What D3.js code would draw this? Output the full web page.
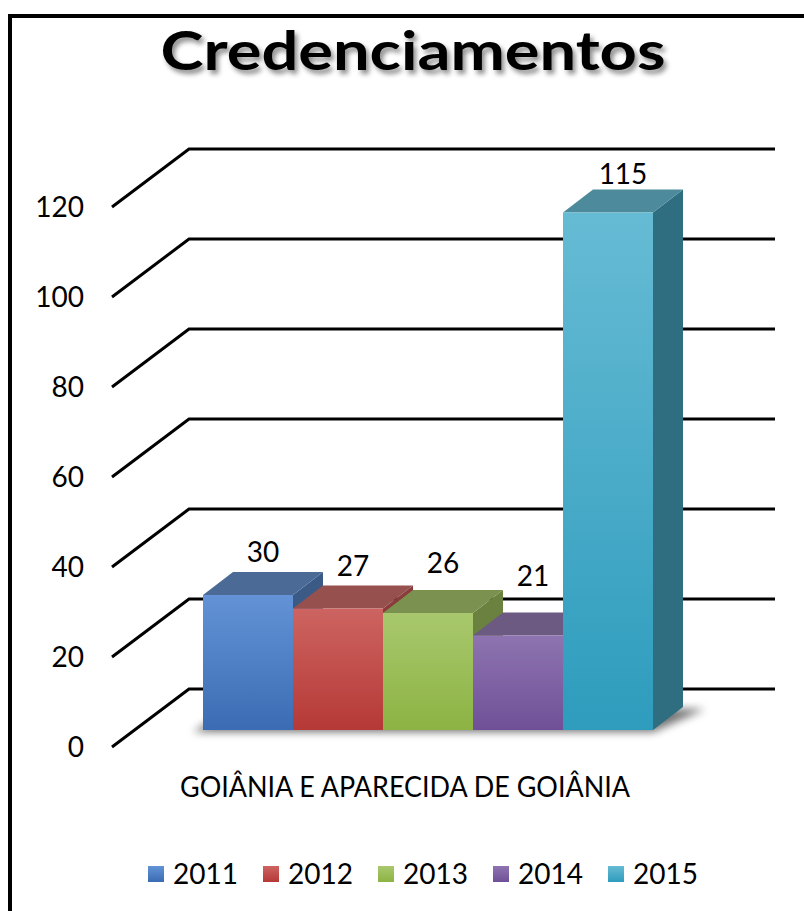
<html>
<head>
<meta charset="UTF-8">
<script src="https://cdn.jsdelivr.net/npm/d3@7"></script>
<style>
  body { margin: 0; background: #fff; }
  text { font-family: Lato, "Open Sans", sans-serif; fill: #000; }
</style>
</head>
<body>
<svg id="chart" width="804" height="911"></svg>
<script>
// data
let years = ["2011", "2012", "2013", "2014", "2015"];
let values = [30, 27, 26, 21, 115];
let yTicks = [0, 20, 40, 60, 80, 100, 120];
let category = "GOIÂNIA E APARECIDA DE GOIÂNIA";
let title = "Credenciamentos";

// colours: front top, front bottom, top face, side face
let frontTop = ["#6393d6", "#cd6461", "#a9c86e", "#8e74b0", "#66bbd4"];
let frontBot = ["#3b6cb3", "#b53936", "#8cb343", "#6f5098", "#2e9cbd"];
let topFace  = ["#4b6a96", "#96504d", "#7a914f", "#6c5a82", "#4d8b9c"];
let sideFace = ["#3c5a86", "#8a3c3a", "#6a8140", "#5a4872", "#2f6e80"];
// extra lift of the value labels (excel moves them off the gridlines)
let labelLift = [10, 10, 17, 27, 6];

let svg = d3.select("#chart");
let defs = svg.append("defs");

// title shadow
let f = defs.append("filter").attr("id", "tshadow").attr("x", "-10%").attr("y", "-30%").attr("width", "120%").attr("height", "160%");
f.append("feDropShadow").attr("dx", 3).attr("dy", 4).attr("stdDeviation", 2.5).attr("flood-color", "#000").attr("flood-opacity", 0.45);

let blur = defs.append("filter").attr("id", "blur").attr("x", "-20%").attr("y", "-50%").attr("width", "140%").attr("height", "200%");
blur.append("feGaussianBlur").attr("stdDeviation", 4);

years.forEach(function(y, i) {
    let g = defs.append("linearGradient").attr("id", "g" + i)
        .attr("x1", 0).attr("y1", 0).attr("x2", 0).attr("y2", 1);
    g.append("stop").attr("offset", "0%").attr("stop-color", frontTop[i]);
    g.append("stop").attr("offset", "100%").attr("stop-color", frontBot[i]);
});

// border (only top and left visible)
svg.append("rect").attr("x", 10).attr("y", 16).attr("width", 820).attr("height", 920)
    .attr("fill", "none").attr("stroke", "#000").attr("stroke-width", 4);

// title
svg.append("text").attr("x", 413).attr("y", 70)
    .attr("text-anchor", "middle")
    .attr("font-size", 54).attr("font-weight", "bold")
    .attr("textLength", 505).attr("lengthAdjust", "spacingAndGlyphs")
    .attr("filter", "url(#tshadow)")
    .text(title);

// scales
let yFront = d3.scaleLinear().domain([0, 120]).range([747, 207]);
let wallDx = 77, wallDy = -58;
let yBar = d3.scaleLinear().domain([0, 120]).range([730, 190]);
let x = d3.scaleBand().domain(years).range([203, 653]).padding(0);
let depthDx = 30, depthDy = -23;
let xLeft = 112, xRight = 775;

// gridlines: diagonal on the side wall + horizontal on the back wall
let grid = svg.append("g").attr("stroke", "#000").attr("stroke-width", 3).attr("fill", "none");
yTicks.forEach(function(t) {
    let y0 = yFront(t);
    grid.append("path")
        .attr("d", "M" + xLeft + "," + y0 + "L" + (xLeft + wallDx) + "," + (y0 + wallDy) + "L" + xRight + "," + (y0 + wallDy));
});

// tick labels
let axis = svg.append("g").attr("transform", "translate(84,1)")
    .call(d3.axisLeft(yFront).tickValues(yTicks).tickSize(0).tickPadding(0));
axis.select(".domain").remove();
axis.selectAll("text").attr("font-size", 28).attr("font-family", "Lato, sans-serif").attr("fill", "#000");

// floor shadow
let x0 = x(years[0]), x1 = x(years[years.length - 1]) + x.bandwidth();
let base = yBar(0);
svg.append("path")
    .attr("d", "M" + (x0 - 10) + "," + (base + 2) + "L" + x1 + "," + (base + 2) +
        "L" + (x1 + depthDx + 22) + "," + (base + depthDy + 2) + "L" + (x0 + depthDx) + "," + (base + depthDy) + "Z")
    .attr("fill", "#000").attr("opacity", 0.55).attr("filter", "url(#blur)");

// bars
let bars = svg.append("g");
years.forEach(function(yr, i) {
    let bx = x(yr), bw = x.bandwidth();
    let top = yBar(values[i]);
    let g = bars.append("g");
    // side face
    g.append("path")
        .attr("d", "M" + (bx + bw) + "," + top + "L" + (bx + bw + depthDx) + "," + (top + depthDy) +
            "L" + (bx + bw + depthDx) + "," + (base + depthDy) + "L" + (bx + bw) + "," + base + "Z")
        .attr("fill", sideFace[i]);
    // top face
    g.append("path")
        .attr("d", "M" + bx + "," + top + "L" + (bx + depthDx) + "," + (top + depthDy) +
            "L" + (bx + bw + depthDx) + "," + (top + depthDy) + "L" + (bx + bw) + "," + top + "Z")
        .attr("fill", topFace[i]);
    // front face
    g.append("rect").attr("x", bx).attr("y", top).attr("width", bw).attr("height", base - top)
        .attr("fill", "url(#g" + i + ")");
});

// data labels
svg.append("g").selectAll("text").data(values).join("text")
    .attr("x", function(d, i) { return x(years[i]) + x.bandwidth() / 2 + depthDx / 2; })
    .attr("y", function(d, i) { return yBar(d) + depthDy - labelLift[i]; })
    .attr("text-anchor", "middle").attr("font-size", 28)
    .text(function(d) { return d; });

// category label
svg.append("text").attr("x", 405).attr("y", 797)
    .attr("text-anchor", "middle").attr("font-size", 28)
    .attr("textLength", 450).attr("lengthAdjust", "spacingAndGlyphs")
    .text(category);

// legend
let legend = svg.append("g");
let lx = d3.scalePoint().domain(years).range([148, 608]);
years.forEach(function(yr, i) {
    legend.append("rect").attr("x", lx(yr)).attr("y", 866).attr("width", 16).attr("height", 16)
        .attr("fill", "url(#g" + i + ")");
    legend.append("text").attr("x", lx(yr) + 25).attr("y", 884)
        .attr("font-size", 28).text(yr);
});
</script>
</body>
</html>
